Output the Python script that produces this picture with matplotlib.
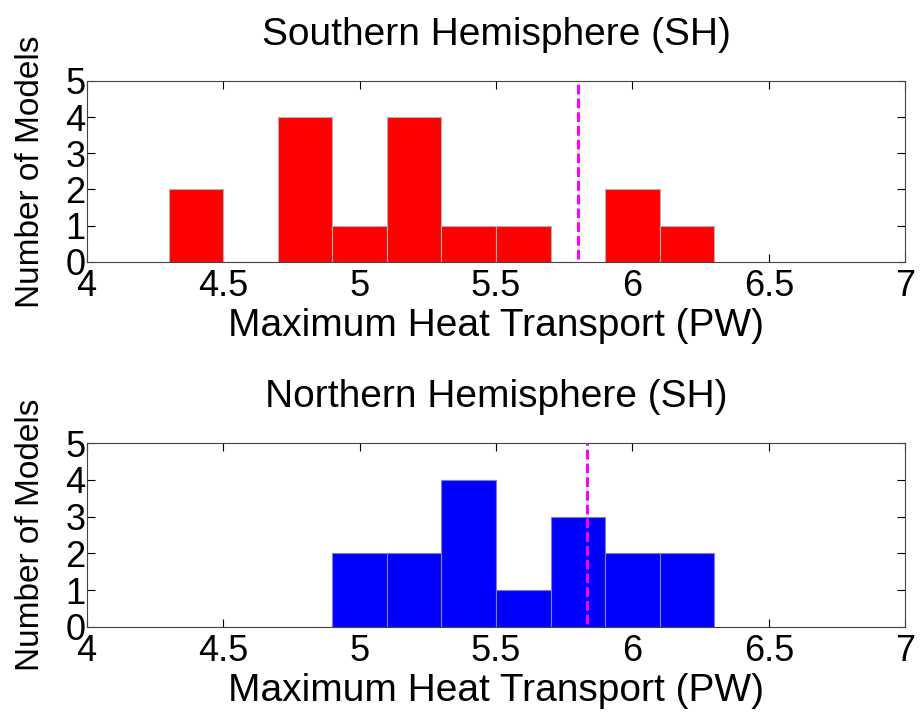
import matplotlib.pyplot as plt
import numpy as np

plt.rcParams['font.family'] = ['Liberation Sans', 'DejaVu Sans']

# bin left edges (PW) and counts
bin_left = [4.3, 4.5, 4.7, 4.9, 5.1, 5.3, 5.5, 5.7, 5.9, 6.1]
sh_counts = [2, 0, 4, 1, 4, 1, 1, 0, 2, 1]
nh_counts = [0, 0, 0, 2, 2, 4, 1, 3, 2, 2]
bin_width = 0.2
sh_mean = 5.80
nh_mean = 5.835

titles = ['Southern Hemisphere (SH)', 'Northern Hemisphere (SH)']
xticks = [4, 4.5, 5, 5.5, 6, 6.5, 7]
xticklabels = ['4', '4.5', '5', '5.5', '6', '6.5', '7']

fig = plt.figure(figsize=(9.22, 7.23), dpi=100)
ax1 = fig.add_axes([0.094, 0.638, 0.888, 0.250])
ax2 = fig.add_axes([0.094, 0.133, 0.888, 0.254])

panels = [(ax1, sh_counts, 'red', '#b0b0b0', sh_mean, titles[0]),
          (ax2, nh_counts, 'blue', '#8080c0', nh_mean, titles[1])]

for ax, counts, color, edge, mean, title in panels:
    ax.bar(bin_left, counts, width=bin_width, align='edge',
           color=color, edgecolor=edge, linewidth=0.8, zorder=2)
    ax.axvline(mean, color='magenta', linestyle='--', lw=2.2,
               dashes=(3.2, 1.3), ymin=0.015, ymax=1, zorder=3)
    ax.set_xlim(4, 7)
    ax.set_ylim(0, 5)
    ax.set_xticks(xticks)
    ax.set_xticklabels(xticklabels)
    ax.set_yticks(range(6))
    ax.tick_params(direction='in', top=True, right=True, length=6,
                   width=0.8, labelsize=26, pad=1)
    ax.tick_params(axis='x', pad=5)
    for s in ax.spines.values():
        s.set_linewidth(0.8)
        s.set_color('#444444')
    ax.set_xlabel('Maximum Heat Transport (PW)', fontsize=28, labelpad=3)
    ax.set_ylabel('Number of Models', fontsize=24)
    ax.yaxis.set_label_coords(-0.05, 0.5)
    ax.set_title(title, fontsize=28, pad=26)

fig.savefig('out.png', dpi=100)
